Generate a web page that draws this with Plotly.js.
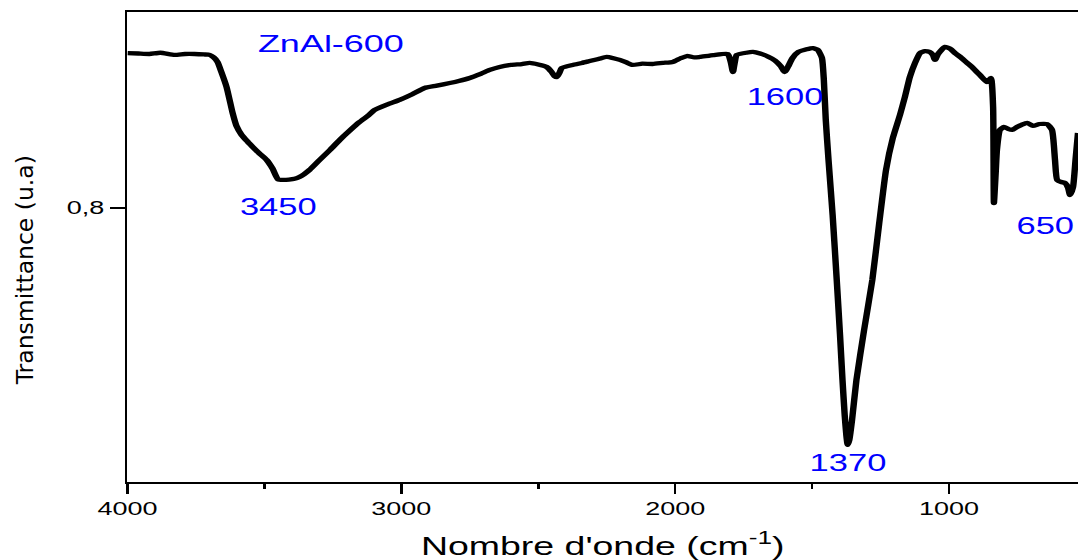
<!DOCTYPE html>
<html>
<head>
<meta charset="utf-8">
<script src="https://cdn.plot.ly/plotly-3.0.1.min.js"></script>
<style>
  html, body { margin: 0; padding: 0; background: #fff; overflow: hidden; }
  #wrap { width: 1078px; height: 560px; overflow: hidden; position: relative; }
  /* the figure is laid out narrow and widened horizontally */
  #chart { width: 719px; height: 560px; transform: scaleX(1.4993); transform-origin: 0 0; }
  /* the rotated y title keeps its natural proportions */
  #chart .annotation[data-index="0"] { transform: scaleX(0.66698); transform-origin: 16.67px 0; }
</style>
</head>
<body>
<div id="wrap"><div id="chart"></div></div>
<script>
// FTIR spectrum of the calcined ZnAl LDH sample
const sampleName = 'ZnAl-600';

const wavenumber = [
  4000, 3960, 3920, 3880, 3828, 3790, 3755, 3720, 3700, 3685,
  3671, 3657, 3638, 3616, 3602, 3583, 3560, 3543, 3520, 3492,
  3470, 3450, 3430, 3410, 3390, 3372, 3355, 3335, 3298, 3260,
  3225, 3190, 3152, 3120, 3097, 3050, 3006, 2960, 2915, 2870,
  2823, 2790, 2750, 2710, 2677, 2641, 2600, 2560, 2531, 2500,
  2469, 2451, 2440, 2432, 2423, 2414, 2374, 2340, 2312, 2280,
  2250, 2225, 2202, 2180, 2155, 2120, 2082, 2045, 2009, 1980,
  1957, 1930, 1910, 1860, 1808, 1797, 1789, 1782, 1775, 1740,
  1716, 1690, 1660, 1635, 1615, 1600, 1588, 1572, 1550, 1520,
  1497, 1479, 1464, 1457, 1450, 1440, 1425, 1410, 1398, 1389,
  1381, 1375, 1370, 1364, 1354, 1338, 1310, 1280, 1255, 1230,
  1205, 1179, 1161, 1143, 1124, 1106, 1088, 1070, 1059, 1051,
  1040, 1015, 995, 978, 955, 934, 916, 900, 887, 861,
  847, 839, 836, 832, 829, 825, 814, 799, 785, 770,
  752, 735, 715, 693, 670, 642, 624, 613, 605, 590,
  576, 565, 558, 547, 538, 529
];

const transmittance = [
  0.8988, 0.8985, 0.8982, 0.8990, 0.8976, 0.8982, 0.8982, 0.8979, 0.8976, 0.8960,
  0.8931, 0.8867, 0.8771, 0.8606, 0.8523, 0.8465, 0.8420, 0.8389, 0.8350, 0.8306,
  0.8250, 0.8182, 0.8178, 0.8180, 0.8185, 0.8197, 0.8215, 0.8242, 0.8306, 0.8370,
  0.8433, 0.8490, 0.8548, 0.8590, 0.8625, 0.8660, 0.8689, 0.8725, 0.8765, 0.8780,
  0.8797, 0.8810, 0.8829, 0.8855, 0.8880, 0.8899, 0.8912, 0.8918, 0.8925, 0.8915,
  0.8899, 0.8867, 0.8840, 0.8835, 0.8860, 0.8893, 0.8912, 0.8925, 0.8937, 0.8950,
  0.8963, 0.8955, 0.8944, 0.8930, 0.8912, 0.8920, 0.8918, 0.8925, 0.8931, 0.8955,
  0.8969, 0.8960, 0.8963, 0.8975, 0.8982, 0.8931, 0.8867, 0.8931, 0.8976, 0.8990,
  0.8995, 0.8985, 0.8965, 0.8940, 0.8905, 0.8867, 0.8900, 0.8955, 0.8995, 0.9012,
  0.9020, 0.9008, 0.8957, 0.8816, 0.8561, 0.8306, 0.7955, 0.7540, 0.7189, 0.6902,
  0.6679, 0.6551, 0.6487, 0.6519, 0.6647, 0.6902, 0.7221, 0.7540, 0.7900, 0.8242,
  0.8446, 0.8593, 0.8708, 0.8835, 0.8925, 0.8988, 0.9000, 0.8995, 0.8976, 0.8944,
  0.8982, 0.9027, 0.9015, 0.8988, 0.8957, 0.8925, 0.8899, 0.8870, 0.8848, 0.8803,
  0.8829, 0.8644, 0.8031, 0.8146, 0.8242, 0.8370, 0.8497, 0.8516, 0.8505, 0.8497,
  0.8516, 0.8530, 0.8542, 0.8523, 0.8535, 0.8535, 0.8497, 0.8306, 0.8178, 0.8165,
  0.8159, 0.8127, 0.8082, 0.8133, 0.8306, 0.8478
];

// band assignments written on the spectrum
const peakWavenumbers = [3450, 1600, 1370, 650];
const peakLabels = ['3450', '1600', '1370', '650'];

const xTickValues = [4000, 3000, 2000, 1000];
const xTickText = ['4000', '3000', '2000', '1000'];
const yTickValues = [0.8];
const yTickText = ['0,8'];

const xAxisTitle = "Nombre d'onde (cm<sup>-1</sup>)";
const yAxisTitle = 'Transmittance (u.a)';

// ---- layout ----
const sans = 'Liberation Sans, Arial, sans-serif';
const blue = 'rgb(0,0,255)';
const peakLabelY = [0.8006, 0.8705, 0.6373, 0.7885];

const annotations = [
  {
    text: yAxisTitle, xref: 'paper', yref: 'paper', x: -0.1084, y: 0.451,
    xanchor: 'center', yanchor: 'middle', textangle: -90, showarrow: false,
    font: { family: 'DejaVu Sans', size: 23.5, color: '#000' }
  },
  {
    text: sampleName, xref: 'paper', yref: 'paper', x: 0.2138, y: 0.934,
    xanchor: 'center', yanchor: 'middle', showarrow: false,
    font: { family: sans, size: 24, color: blue }
  }
];
peakLabels.forEach((lab, i) => {
  annotations.push({
    text: lab, xref: 'x', yref: 'y', x: peakWavenumbers[i], y: peakLabelY[i],
    xanchor: 'center', yanchor: 'middle', showarrow: false,
    font: { family: sans, size: 23, color: blue }
  });
});

const trace = {
  x: wavenumber, y: transmittance, type: 'scatter', mode: 'lines',
  line: { color: '#000', width: 4.3, shape: 'spline', smoothing: 0.5 }, hoverinfo: 'skip'
};

const layout = {
  width: 719, height: 560,
  margin: { l: 85.33, r: 0, t: 12, b: 78, pad: 0 },
  paper_bgcolor: '#fff', plot_bgcolor: '#fff',
  font: { family: sans, color: '#000', size: 18 },
  showlegend: false,
  xaxis: {
    range: [4000, 529], autorange: false,
    showgrid: false, zeroline: false,
    showline: true, linecolor: '#000', linewidth: 1.8, mirror: true,
    ticks: 'outside', ticklen: 10, tickwidth: 1.8, tickcolor: '#000',
    tickmode: 'array', tickvals: xTickValues, ticktext: xTickText,
    tickfont: { family: sans, size: 18, color: '#000' },
    minor: { tickmode: 'array', tickvals: [3500, 2500, 1500], ticks: 'outside',
             ticklen: 5, tickwidth: 1.8, tickcolor: '#000', showgrid: false },
    title: { text: xAxisTitle, font: { family: sans, size: 25, color: '#000' }, standoff: 21 }
  },
  yaxis: {
    range: [0.625, 0.925], autorange: false,
    showgrid: false, zeroline: false,
    showline: true, linecolor: '#000', linewidth: 1.8, mirror: false,
    ticks: 'outside', ticklen: 10, tickwidth: 1.8, tickcolor: '#000',
    tickmode: 'array', tickvals: yTickValues, ticktext: yTickText,
    tickfont: { family: sans, size: 18, color: '#000' }
  },
  annotations: annotations
};

Plotly.newPlot('chart', [trace], layout, { displayModeBar: false, staticPlot: true });
</script>
</body>
</html>
